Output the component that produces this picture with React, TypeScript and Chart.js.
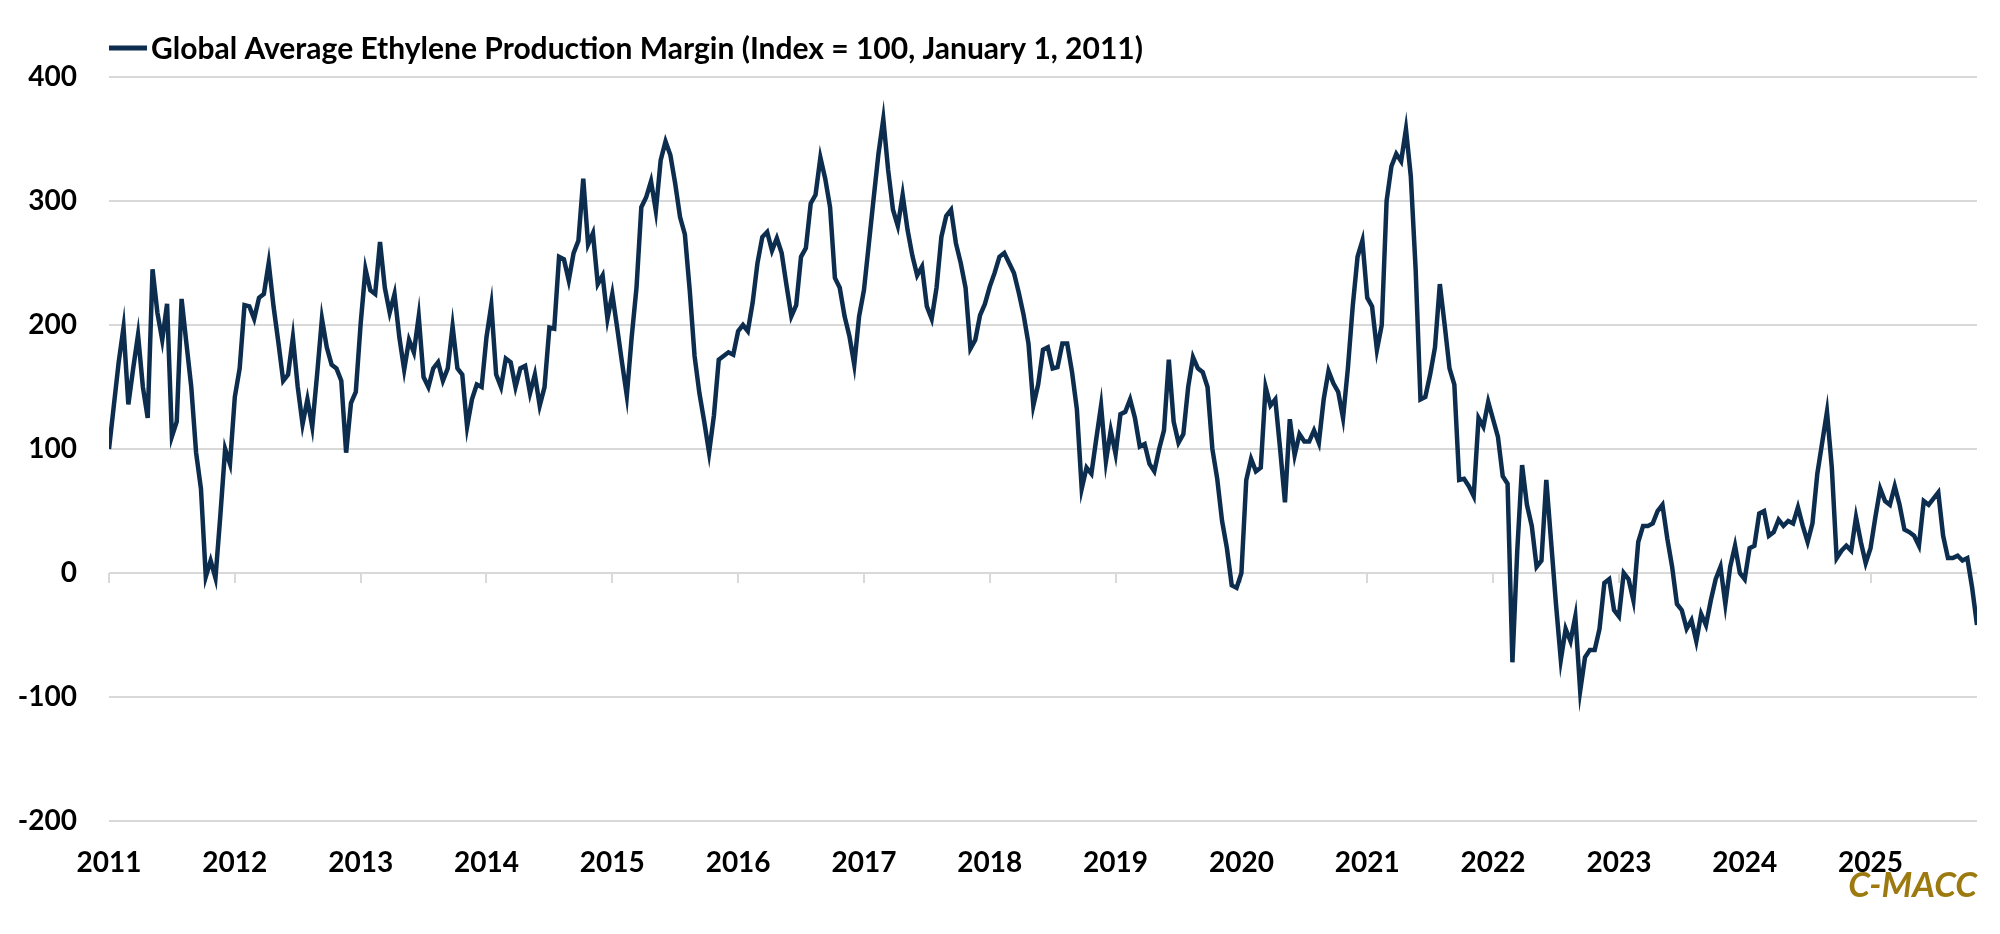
import React, { useEffect, useRef } from "react";
import { Chart, registerables } from "chart.js";

Chart.register(...registerables);

// ---------- data ----------
const YEARS = [2011, 2012, 2013, 2014, 2015, 2016, 2017, 2018, 2019, 2020, 2021, 2022, 2023, 2024, 2025];
const Y_TICKS = [-200, -100, 0, 100, 200, 300, 400];
const LEGEND_LABEL = "Global Average Ethylene Production Margin (Index = 100, January 1, 2011)";
const SOURCE_LABEL = "C-MACC";
const STEPS_PER_YEAR = 26; // roughly bi-weekly readings

const m2011 = [100, 135, 170, 198, 136, 165, 192, 150, 125, 245, 210, 188, 217, 110, 122, 221, 185, 150, 97, 68, -3, 10, -4, 46, 100, 88];
const m2012 = [142, 165, 216, 215, 205, 222, 225, 250, 215, 186, 155, 160, 190, 150, 120, 140, 118, 160, 205, 182, 168, 165, 155, 97, 137, 146];
const m2013 = [201, 245, 228, 225, 267, 230, 210, 225, 190, 164, 188, 178, 207, 158, 150, 165, 170, 155, 165, 199, 165, 160, 118, 140, 152, 150];
const m2014 = [190, 216, 160, 150, 173, 170, 150, 165, 167, 145, 160, 135, 150, 198, 197, 255, 253, 236, 258, 268, 318, 265, 274, 233, 240, 205];
const m2015 = [225, 198, 170, 143, 190, 230, 295, 303, 316, 292, 333, 348, 337, 314, 287, 273, 228, 175, 145, 122, 97, 127, 172, 175, 178, 176];
const m2016 = [195, 200, 195, 218, 250, 271, 275, 260, 270, 258, 232, 207, 216, 255, 262, 298, 305, 335, 318, 295, 238, 230, 207, 191, 168, 207];
const m2017 = [228, 265, 302, 338, 366, 325, 293, 280, 305, 277, 256, 240, 247, 215, 205, 230, 271, 288, 293, 266, 250, 230, 181, 188, 208, 217];
const m2018 = [231, 242, 255, 258, 250, 242, 226, 208, 185, 135, 152, 180, 182, 165, 166, 185, 185, 162, 132, 68, 85, 80, 108, 135, 90, 115];
const m2019 = [96, 128, 130, 140, 125, 102, 104, 88, 82, 100, 115, 172, 122, 105, 112, 150, 174, 165, 162, 150, 100, 76, 42, 20, -10, -12];
const m2020 = [0, 75, 92, 82, 85, 150, 135, 140, 100, 57, 124, 95, 112, 106, 106, 115, 105, 140, 163, 153, 146, 125, 165, 215, 255, 268];
const m2021 = [222, 215, 180, 200, 300, 328, 338, 332, 358, 320, 245, 140, 142, 160, 182, 233, 200, 165, 152, 75, 76, 70, 62, 125, 118, 138];
const m2022 = [124, 110, 78, 72, -72, 18, 87, 55, 38, 5, 10, 75, 25, -25, -70, -45, -55, -35, -95, -68, -62, -62, -45, -8, -5, -30];
const m2023 = [-35, 0, -5, -22, 25, 38, 38, 40, 50, 55, 28, 5, -25, -30, -45, -38, -55, -33, -42, -22, -5, 5, -25, 5, 22, 0];
const m2024 = [-5, 20, 22, 48, 50, 30, 33, 43, 38, 42, 40, 53, 38, 25, 40, 80, 105, 130, 85, 12, 18, 22, 18, 45, 25, 8];
const m2025 = [20, 45, 68, 58, 55, 70, 55, 35, 33, 30, 22, 58, 55, 60, 65, 30, 12, 12, 14, 10, 12, -12, -42];

const SERIES_BY_YEAR = [m2011, m2012, m2013, m2014, m2015, m2016, m2017, m2018, m2019, m2020, m2021, m2022, m2023, m2024, m2025];

// ---------- style ----------
const NAVY = "#0c2d4e";
const GRID = "#d9d9d9";
const GOLD = "#9c7a10";
const FONT = "Lato";

export default function App() {
  const ref = useRef<HTMLCanvasElement>(null);

  useEffect(() => {
    document.body.style.margin = "0";
    const canvas = ref.current;
    if (!canvas) return;

    const points: { x: number; y: number }[] = [];
    YEARS.forEach((yr, i) => {
      SERIES_BY_YEAR[i].forEach((v, j) => points.push({ x: yr + j / STEPS_PER_YEAR, y: v }));
    });
    const xMax = points[points.length - 1].x;

    const decor = {
      id: "decor",
      beforeDatasetsDraw(chart: any) {
        const { ctx, scales } = chart;
        const x = scales.x;
        const y = scales.y;
        const y0 = y.getPixelForValue(0);
        ctx.save();
        ctx.strokeStyle = GRID;
        ctx.lineWidth = 2;
        YEARS.forEach((yr) => {
          const px = Math.round(x.getPixelForValue(yr));
          ctx.beginPath();
          ctx.moveTo(px, y0);
          ctx.lineTo(px, y0 + 10);
          ctx.stroke();
        });
        ctx.restore();
      },
      afterDraw(chart: any) {
        const { ctx, chartArea } = chart;
        ctx.save();
        ctx.strokeStyle = NAVY;
        ctx.lineWidth = 5;
        ctx.beginPath();
        ctx.moveTo(chartArea.left, 48);
        ctx.lineTo(chartArea.left + 38, 48);
        ctx.stroke();
        ctx.fillStyle = "#000";
        ctx.font = `bold 30px ${FONT}`;
        ctx.textBaseline = "middle";
        ctx.textAlign = "left";
        ctx.fillText(LEGEND_LABEL, chartArea.left + 42, 49);
        ctx.fillStyle = GOLD;
        ctx.font = `italic bold 35px ${FONT}`;
        ctx.textAlign = "right";
        ctx.fillText(SOURCE_LABEL, chartArea.right, 886);
        ctx.restore();
      },
    };

    const chart = new Chart(canvas, {
      type: "line",
      data: {
        datasets: [
          {
            label: LEGEND_LABEL,
            data: points,
            borderColor: NAVY,
            backgroundColor: NAVY,
            borderWidth: 4.5,
            pointRadius: 0,
            tension: 0,
            fill: false,
          },
        ],
      },
      options: {
        responsive: false,
        animation: false,
        parsing: false as any,
        layout: { padding: { top: 77, right: 23, bottom: 0, left: 0 } },
        plugins: {
          legend: { display: false },
          tooltip: { enabled: false },
        },
        scales: {
          x: {
            type: "linear",
            min: YEARS[0],
            max: xMax,
            afterBuildTicks: (scale: any) => {
              scale.ticks = YEARS.map((v) => ({ value: v }));
            },
            afterFit: (scale: any) => {
              scale.height = 113;
            },
            grid: { display: false, drawTicks: false },
            border: { display: false },
            ticks: {
              autoSkip: false,
              maxRotation: 0,
              padding: 25,
              color: "#000",
              font: { family: FONT, size: 28, weight: "bold" },
              callback: (v: any) => String(v),
            },
          },
          y: {
            min: Y_TICKS[0],
            max: Y_TICKS[Y_TICKS.length - 1],
            afterBuildTicks: (scale: any) => {
              scale.ticks = Y_TICKS.map((v) => ({ value: v }));
            },
            afterFit: (scale: any) => {
              scale.width = 109;
            },
            grid: { color: GRID, lineWidth: 2, drawTicks: false },
            border: { display: false },
            ticks: {
              padding: 32,
              color: "#000",
              font: { family: FONT, size: 28, weight: "bold" },
              callback: (v: any) => String(v),
            },
          },
        },
      } as any,
      plugins: [decor],
    });

    return () => chart.destroy();
  }, []);

  return <canvas ref={ref} width={2000} height={934} style={{ display: "block", width: 2000, height: 934 }} />;
}
